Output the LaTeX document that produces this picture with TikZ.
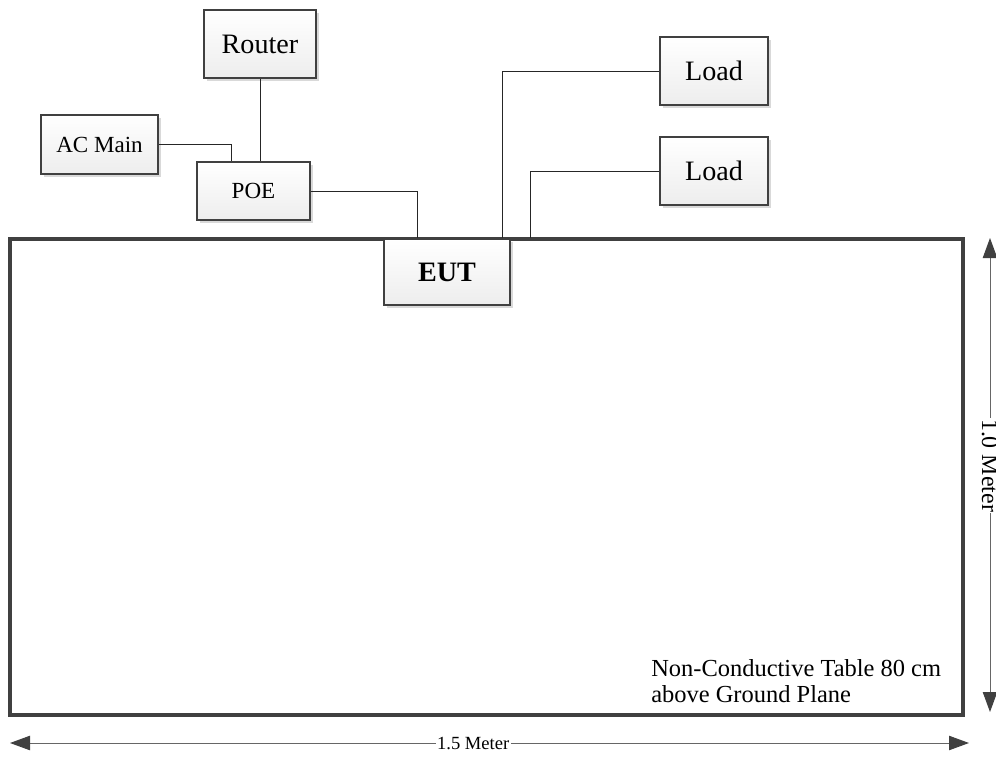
\documentclass[tikz,border=0pt]{standalone}
\usepackage{fontspec}
\setmainfont{Liberation Serif}
\usepackage{tikz}
\usetikzlibrary{arrows.meta, positioning, shadows}

\definecolor{edgegray}{HTML}{404040}
\tikzset{
  unit/.style={draw=edgegray, line width=1.1pt, top color=white, bottom color=gray!14,
               drop shadow={shadow xshift=2pt, shadow yshift=-2pt, fill=gray!30, opacity=1},
               inner sep=0, font=\fontsize{20}{24}\selectfont},
  smallunit/.style={unit, font=\fontsize{16.4}{19}\selectfont},
  wire/.style={draw=black!85, line width=0.5pt},
  dimline/.style={draw=gray!80!black, line width=0.7pt,
                  {Triangle[length=0.5cm, width=0.36cm, color=edgegray]}-{Triangle[length=0.5cm, width=0.36cm, color=edgegray]}},
  dimtext/.style={fill=white, inner sep=1pt, font=\fontsize{13.2}{15}\selectfont}
}

\begin{document}
\begin{tikzpicture}[x=0.025cm, y=-0.025cm]
  \useasboundingbox (0,0) rectangle (996,757);
  %% table
  \draw[draw=edgegray, line width=2.6pt] (10,239) rectangle (963,715);
  \node[anchor=west, align=left, inner sep=0, font=\fontsize{17.4}{18.5}\selectfont] (tabletext) at (651,681)
    {Non-Conductive Table 80 cm\\above Ground Plane};
  %% equipment
  \node[unit, minimum width=2.8cm, minimum height=1.7cm] (router) at (260,44) {Router};
  \node[smallunit, minimum width=2.925cm, minimum height=1.475cm] (acmain) at (99.5,144.5) {AC Main};
  \node[smallunit, minimum width=2.825cm, minimum height=1.45cm] (poe) at (253.5,191) {POE};
  \node[unit, minimum width=3.15cm, minimum height=1.65cm, font=\fontsize{20}{24}\selectfont\bfseries] (eut) at (447,272) {EUT};
  \node[unit, minimum width=2.7cm, minimum height=1.7cm] (loadA) at (714,71) {Load};
  \node[unit, minimum width=2.7cm, minimum height=1.7cm] (loadB) at (714,171) {Load};
  %% wiring
  \draw[wire] (router.south) -- (router.south |- poe.north);
  \draw[wire] (acmain.east) -| ([xshift=-0.5625cm]poe.north);
  \draw[wire] (poe.east) -| ([xshift=-0.75cm]eut.north);
  \draw[wire] ([xshift=1.375cm]eut.north) |- (loadA.west);
  \draw[wire] ([xshift=2.075cm]eut.north) |- (loadB.west);
  %% dimensions
  \coordinate (wleft) at (10,743);
  \coordinate (wright) at (969,743);
  \coordinate (dtop) at (990,238);
  \coordinate (dbottom) at (990,712);
  \draw[dimline] (wleft) -- node[dimtext, pos=0.483] (wlabel) {1.5 Meter} (wright);
  \draw[dimline] (dtop) -- node[dimtext, pos=0.48, rotate=-90, font=\fontsize{17}{19}\selectfont] (dlabel) {1.0 Meter} (dbottom);
\end{tikzpicture}
\end{document}
